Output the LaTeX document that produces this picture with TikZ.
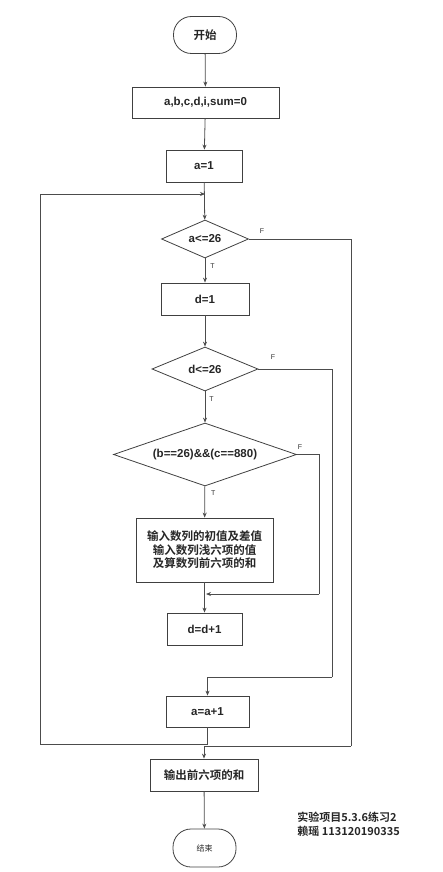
\documentclass[tikz,border=0pt]{standalone}
\usepackage{fontspec}
\setmainfont{Liberation Sans}
\newfontfamily\cjk{Noto Sans CJK SC}[BoldFont={Noto Sans CJK SC Bold}]
\usetikzlibrary{shapes.geometric,arrows.meta}
\begin{document}
\begin{tikzpicture}[x=1pt,y=-1pt,
  line width=0.8pt,
  every node/.style={font=\fontsize{11.5}{13.5}\selectfont\bfseries, text=black!85},
  procbox/.style={draw=black!75, rectangle, inner sep=0pt, align=center},
  term/.style={draw=black!75, rectangle, rounded corners=18pt, inner sep=0pt,
    minimum width=63pt, minimum height=37pt},
  decide/.style={draw=black!75, diamond, inner sep=0pt},
  conn/.style={draw=black!70, -{Stealth[length=5pt,width=4pt]}},
  plain/.style={draw=black!70},
  lbl/.style={font=\fontsize{7}{8}\selectfont, text=black!80, inner sep=0pt}
]
\useasboundingbox (0,0) rectangle (442,872);

\node[term] (start) at (205,35) {\cjk\bfseries 开始};
\node[procbox, minimum width=147pt, minimum height=31pt] (init) at (205.5,102.5) {a,b,c,d,i,sum=0};
\node[procbox, minimum width=76pt, minimum height=32pt] (a1) at (204,166) {a=1};
\node[decide, minimum width=87pt, minimum height=38pt, shape aspect=2.3] (c1) at (205,239) {a<=26};
\node[procbox, minimum width=88pt, minimum height=32pt] (d1) at (205,299) {d=1};
\node[decide, minimum width=106pt, minimum height=44pt, shape aspect=2.4] (c2) at (205,369) {d<=26};
\node[decide, minimum width=183pt, minimum height=63pt, shape aspect=2.9] (c3) at (205,454.5) {(b==26)\&\&(c==880)};
\node[procbox, minimum width=137pt, minimum height=64pt] (body) at (204.5,550)
  {\cjk\bfseries 输入数列的初值及差值\\\cjk\bfseries 输入数列浅六项的值\\\cjk\bfseries 及算数列前六项的和};
\node[procbox, minimum width=75pt, minimum height=32pt] (dinc) at (204.5,629) {d=d+1};
\node[procbox, minimum width=83pt, minimum height=31pt] (ainc) at (207.5,711.5) {a=a+1};
\node[procbox, minimum width=108pt, minimum height=32pt] (out) at (204,775) {\cjk\bfseries 输出前六项的和};
\node[term, minimum height=38pt] (end) at (204.5,848) {\cjk\mdseries\fontsize{8}{9}\selectfont 结束};

\node[anchor=west, align=left, inner sep=0pt, font=\cjk\bfseries\fontsize{11}{14}\selectfont] (note) at (297,824)
  {实验项目5.3.6练习2\\赖瑶 113120190335};

% coordinates
\coordinate (j1) at (205,194);
\coordinate (lpB) at (40,744);
\coordinate (f1) at (351,746);
\coordinate (f2) at (332,677);
\coordinate (f3) at (319,594);
\coordinate (m3) at (206,594);

% main flow
\draw[conn] (start) -- (init);
\draw[conn] (init) -- (a1);
\draw[conn] (a1) -- (c1);
\draw[conn] (c1) -- node[lbl, pos=0.3, right=5pt] {T} (d1);
\draw[conn] (d1) -- (c2);
\draw[conn] (c2) -- node[lbl, pos=0.25, right=4pt] {T} (c3);
\draw[conn] (c3) -- node[lbl, pos=0.22, right=6pt] {T} (body);
\draw[conn] (body) -- (dinc);

% false branches
\draw[plain] (c3.east) -| (f3);
\draw[conn] (f3) -- (m3);
\draw[plain] (c2.east) -| (f2);
\draw[conn] (f2) -| (ainc.north);
\draw[plain] (c1.east) -| (f1);
\draw[conn] (f1) -| (out.north);

\node[lbl] at (262,231) {F};
\node[lbl] at (273,357) {F};
\node[lbl] at (300,447) {F};

% loop back
\draw[plain] (ainc.south) |- (lpB);
\draw[conn] (lpB) |- (j1);

\draw[conn] (out) -- (end);
\end{tikzpicture}
\end{document}
